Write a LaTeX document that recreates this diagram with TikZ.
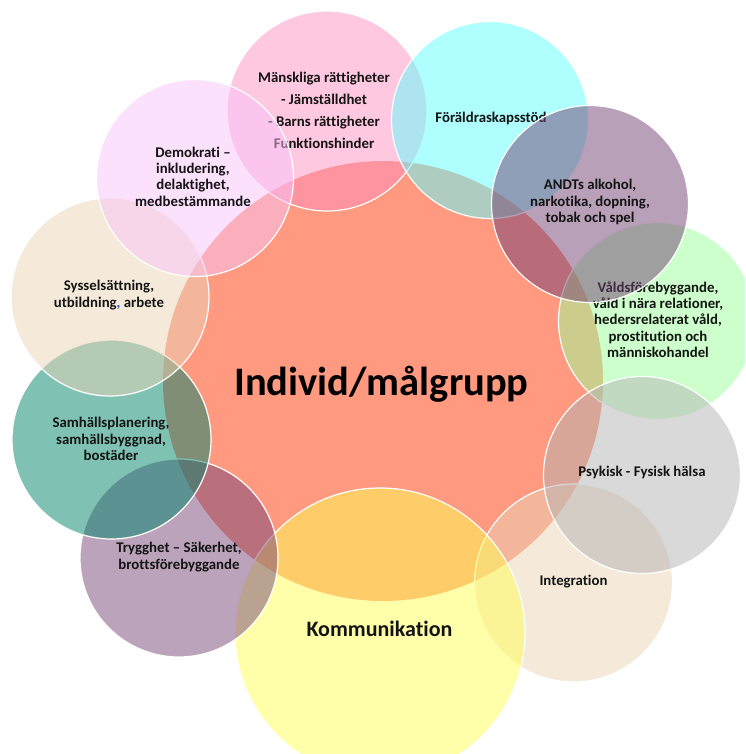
\documentclass[tikz,border=0pt]{standalone}
\usepackage{fontspec}
\setmainfont{Carlito}[Ligatures=NoCommon]
\definecolor{cC}{RGB}{255,153,128}
\definecolor{cM}{RGB}{255,145,195}
\definecolor{cF}{RGB}{95,255,255}
\definecolor{cA}{RGB}{115,65,115}
\definecolor{cV}{RGB}{155,255,155}
\definecolor{cP}{RGB}{179,179,179}
\definecolor{cI}{RGB}{235,211,181}
\definecolor{cK}{RGB}{255,255,85}
\definecolor{cT}{RGB}{119,71,121}
\definecolor{cS}{RGB}{0,133,105}
\definecolor{cY}{RGB}{235,211,181}
\definecolor{cD}{RGB}{249,195,249}
\definecolor{txt}{RGB}{20,20,20}
\definecolor{lnk}{RGB}{40,90,200}
\begin{document}
\begin{tikzpicture}[x=1pt,y=-1pt,
  bub/.style={circle, draw=white, line width=1.2pt, fill opacity=0.5, draw opacity=1, inner sep=0pt, minimum size=#1},
  lab/.style={align=center, inner sep=0pt, text=txt, font=\bfseries\fontsize{14.8}{16.3}\selectfont},
]
\useasboundingbox (0,0) rectangle (745,754);
\clip (0,0) rectangle (745,754);
\node[circle, fill=cC, inner sep=0pt, minimum size=440pt] (central) at (383,381) {};

\node[bub=200pt, fill=cM] (mr) at (327,111) {};
\node[lab] (mrt) at (324,110) {Mänskliga rättigheter\\[5.7pt] - Jämställdhet\\[5.7pt] - Barns rättigheter\\[5.7pt] Funktionshinder};

\node[bub=197pt, fill=cF] (fs) at (490,120) {};
\node[lab] (fst) at (491,118) {Föräldraskapsstöd};

\node[bub=197pt, fill=cV] (vf) at (657,321) {};
\node[lab] (vft) at (658,319.5) {Våldsförebyggande,\\ våld i nära relationer,\\ hedersrelaterat våld,\\ prostitution och\\ människohandel};

\node[bub=197pt, fill=cA] (an) at (590,204) {};
\node[lab] (ant) at (590,202) {ANDTs alkohol,\\ narkotika, dopning,\\ tobak och spel};

\node[bub=198pt, fill=cI] (in) at (573.5,583) {};
\node[lab] (int) at (573.5,582) {Integration};

\node[bub=197pt, fill=cP] (ph) at (642,475) {};
\node[lab] (pht) at (642,472.5) {Psykisk - Fysisk hälsa};

\node[bub=290pt, fill=cK] (ko) at (380,633) {};
\node[lab, font=\bfseries\fontsize{22}{26}\selectfont] (kot) at (379.5,628.5) {Kommunikation};

\node[bub=198pt, fill=cT] (tr) at (179,558) {};
\node[lab] (trt) at (179,557) {Trygghet – Säkerhet,\\ brottsförebyggande};

\node[bub=199pt, fill=cS] (sp) at (111.5,439.5) {};
\node[lab] (spt) at (111,439) {Samhällsplanering,\\ samhällsbyggnad,\\ bostäder};

\node[bub=198pt, fill=cY] (sy) at (110,297) {};
\node[lab] (syt) at (109,295) {Sysselsättning,\\ utbildning{\color{lnk},} arbete};

\node[bub=197pt, fill=cD] (de) at (195,178) {};
\node[lab] (det) at (193,176.5) {Demokrati –\\ inkludering,\\ delaktighet,\\ medbestämmande};

\node[inner sep=0pt, text=black, font=\bfseries\fontsize{40.5}{48}\selectfont] (title) at (381.5,384) {Individ/målgrupp};
\end{tikzpicture}
\end{document}
